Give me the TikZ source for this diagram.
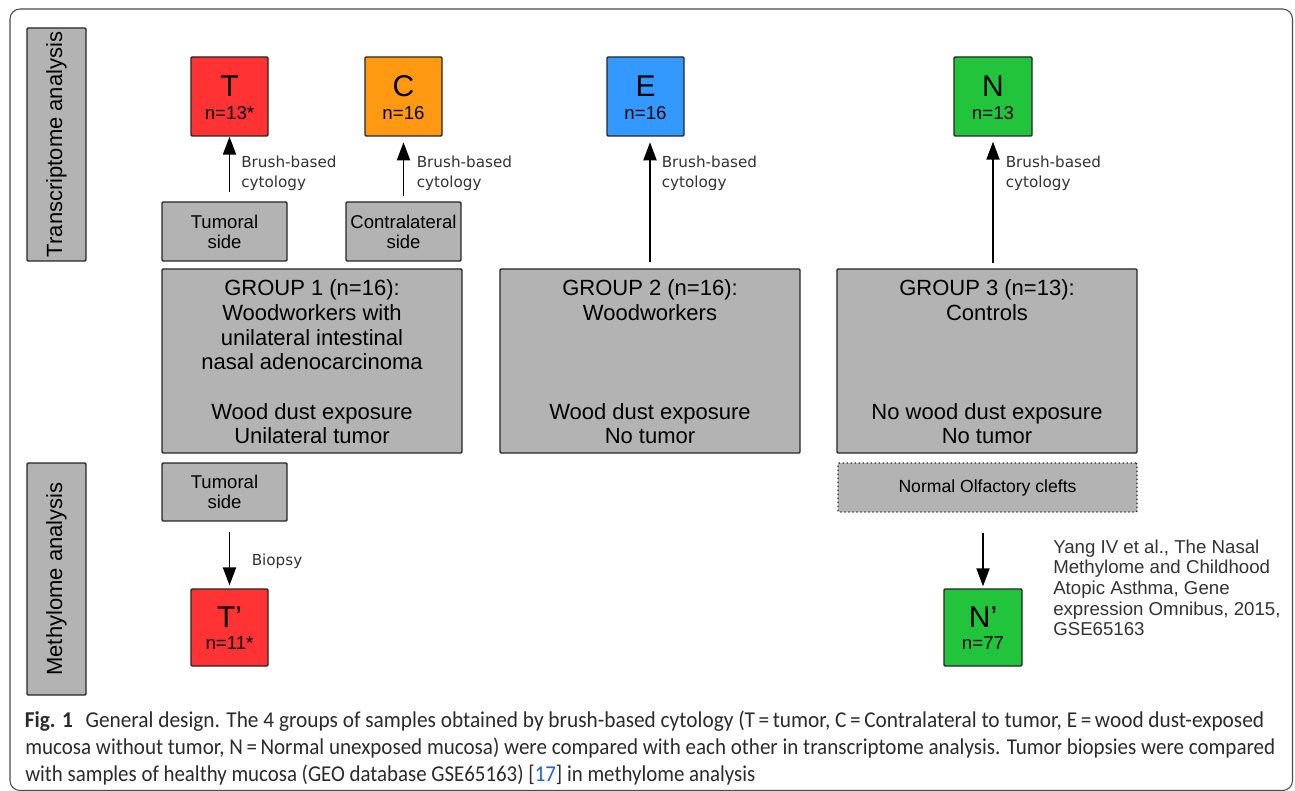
\documentclass[tikz,border=0pt]{standalone}
\usepackage{fontspec}
\usepackage{graphicx}
\setmainfont{Liberation Sans}
\newfontfamily\dvfont{DejaVu Sans}
\newfontfamily\capfont{Carlito}
\usetikzlibrary{arrows.meta}
\definecolor{tred}{HTML}{FF3333}
\definecolor{corange}{HTML}{FF9912}
\definecolor{eblue}{HTML}{3399FF}
\definecolor{ngreen}{HTML}{22C43C}
\definecolor{boxgray}{HTML}{B3B3B3}
\definecolor{txtgray}{HTML}{333333}
\definecolor{capgray}{HTML}{2B2B2B}
\definecolor{refblue}{HTML}{1F5FD0}
\def\px{0.75pt}
\tikzset{
  box/.style={draw=black!85, line width=1pt, fill=boxgray, inner sep=0pt, rounded corners=0.8pt},
  sq/.style={box, minimum width=77*\px, minimum height=79*\px},
  letter/.style={font=\fontsize{22.5}{22}\selectfont, anchor=base, inner sep=0pt},
  nlab/.style={font=\fontsize{14}{14}\selectfont, anchor=base, inner sep=0pt},
  sidebox/.style={box, minimum height=59*\px, align=center, font=\fontsize{13.9}{15}\selectfont},
  grpbox/.style={box, minimum width=300*\px, minimum height=184*\px},
  grptext/.style={anchor=base, inner sep=0pt, font=\fontsize{16.5}{18.5}\selectfont},
  vlab/.style={box, rotate=90, minimum width=233*\px, minimum height=59*\px, font=\fontsize{16.5}{18}\selectfont},
  arr/.style={line width=1.45pt, -{Triangle[width=9.75pt,length=13.5pt]}},
  brush/.style={anchor=base west, inner sep=0pt, text=txtgray, font=\dvfont\fontsize{11.4}{15}\selectfont},
  capline/.style={anchor=base west, inner sep=0pt, text=capgray, font=\capfont\fontsize{17}{20}\selectfont},
}
\begin{document}
\begin{tikzpicture}[x=0.75pt,y=-0.75pt]
\path[use as bounding box, fill=white] (0,0) rectangle (1295,791);
\draw[draw=black!70, line width=0.8pt, rounded corners=7.5pt] (10,9) rectangle (1292.5,790.5);

% side labels
\node[vlab] (trlab) at (56.5,144.5) {Transcriptome analysis};
\node[vlab, minimum width=232*\px] (melab) at (56.5,579) {Methylome analysis};

% colored sample boxes
\node[sq, fill=tred] (T) at (229.5,96.5) {};
\node[letter] (Tl) at (229.5,97) {T};
\node[nlab] (Tn) at (229.5,119.5) {n=13*};
\node[sq, fill=corange] (C) at (403.5,96.5) {};
\node[letter] (Cl) at (403.5,97) {C};
\node[nlab] (Cn) at (403.5,119.5) {n=16};
\node[sq, fill=eblue] (E) at (645.5,96.5) {};
\node[letter] (El) at (645.5,97) {E};
\node[nlab] (En) at (645.5,119.5) {n=16};
\node[sq, fill=ngreen, minimum width=78*\px] (N) at (993,96.5) {};
\node[letter] (Nl) at (993,97) {N};
\node[nlab] (Nn) at (993,119.5) {n=13};

% side boxes
\node[sidebox, minimum width=125*\px] (tside) at (224.5,231.5) {Tumoral\\side};
\node[sidebox, minimum width=115*\px] (cside) at (403.5,231.5) {Contralateral\\side};

% group boxes
\node[grpbox] (g1) at (312,361) {};
\node[grptext] (g1t) at (312,296) {\begin{tabular}[t]{c}GROUP 1 (n=16):\\Woodworkers with\\unilateral intestinal\\nasal adenocarcinoma\\~\\Wood dust exposure\\Unilateral tumor\end{tabular}};
\node[grpbox] (g2) at (650,361) {};
\node[grptext] (g2t) at (650,296) {\begin{tabular}[t]{c}GROUP 2 (n=16):\\Woodworkers\\~\\~\\~\\Wood dust exposure\\No tumor\end{tabular}};
\node[grpbox] (g3) at (987,361) {};
\node[grptext] (g3t) at (987,296) {\begin{tabular}[t]{c}GROUP 3 (n=13):\\Controls\\~\\~\\~\\No wood dust exposure\\No tumor\end{tabular}};

% methylome part
\node[sidebox, minimum width=125*\px, minimum height=58*\px] (tside2) at (224.5,492) {Tumoral\\side};
\node[box, dotted, line width=1pt, minimum width=299*\px, minimum height=49*\px, font=\fontsize{13.2}{15}\selectfont] (olf) at (987.5,487.5) {Normal Olfactory clefts};
\node[sq, fill=tred, minimum height=77*\px] (Tp) at (229.5,627.5) {};
\node[letter] (Tpl) at (229.5,627) {T’};
\node[nlab] (Tpn) at (229.5,649.5) {n=11*};
\node[sq, fill=ngreen, minimum width=78*\px, minimum height=77*\px] (Np) at (983,627.5) {};
\node[letter] (Npl) at (983,627) {N’};
\node[nlab] (Npn) at (983,649.5) {n=77};

% arrows
\draw[arr, shorten <=7pt] (T.south |- tside.north) -- (T.south);
\draw[arr, shorten <=3.75pt, shorten >=4.2pt] (cside.north) -- (C.south);
\draw[arr, shorten <=4.5pt, shorten >=4.2pt] (g2.north) -- (g2.north |- E.south);
\draw[arr, shorten <=3.75pt, shorten >=3.75pt] (N.south |- g3.north) -- (N.south);
\draw[arr, shorten <=8pt, shorten >=2.2pt] (Tp.north |- tside2.south) -- (Tp.north);
\draw[arr, shorten <=15pt, shorten >=1.5pt] (Np.north |- olf.south) -- (Np.north);

% arrow labels
\node[brush] (b1) at (241,168) {\begin{tabular}[t]{@{}l@{}}Brush-based\\cytology\end{tabular}};
\node[brush] (b2) at (416.5,168) {\begin{tabular}[t]{@{}l@{}}Brush-based\\cytology\end{tabular}};
\node[brush] (b3) at (661.5,168) {\begin{tabular}[t]{@{}l@{}}Brush-based\\cytology\end{tabular}};
\node[brush] (b4) at (1005.5,168) {\begin{tabular}[t]{@{}l@{}}Brush-based\\cytology\end{tabular}};
\node[brush] (bio) at (251.5,565) {Biopsy};

% citation
\node[anchor=base west, inner sep=0pt, text=txtgray, font=\fontsize{14}{15.5}\selectfont] (cite) at (1053,553) {\begin{tabular}[t]{@{}l@{}}Yang IV et al., The Nasal\\Methylome and Childhood\\Atopic Asthma, Gene\\expression Omnibus, 2015,\\GSE65163\end{tabular}};

% caption
\node[capline] (cap1) at (24.5,727.5) {\resizebox{929.6pt}{\height}{\textbf{Fig. 1}\hspace{0.6em}General design. The 4 groups of samples obtained by brush-based cytology (T\,=\,tumor, C\,=\,Contralateral to tumor, E\,=\,wood dust-exposed}};
\node[capline] (cap2) at (25,754.5) {\resizebox{937.5pt}{\height}{mucosa without tumor, N\,=\,Normal unexposed mucosa) were compared with each other in transcriptome analysis. Tumor biopsies were compared}};
\node[capline] (cap3) at (25,781) {\resizebox{547.5pt}{\height}{with samples of healthy mucosa (GEO database GSE65163) [\textcolor{refblue}{17}] in methylome analysis}};
\end{tikzpicture}
\end{document}
